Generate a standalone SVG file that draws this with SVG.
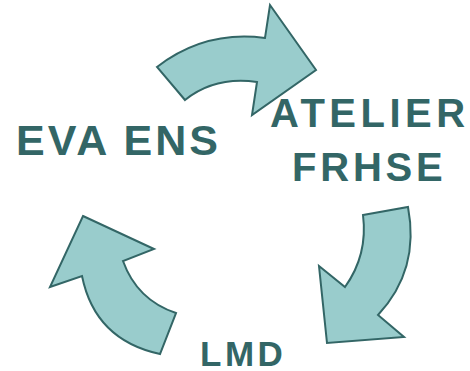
<svg xmlns="http://www.w3.org/2000/svg" width="470" height="371" viewBox="0 0 470 371">
<style>
.arrow{fill:#99CCCC;stroke:#336666;stroke-width:2;stroke-linejoin:miter}
.lbl{font-family:"Liberation Sans",Arial,sans-serif;font-weight:bold;fill:#336666}
</style>
<rect width="470" height="371" fill="#ffffff"/>
<g id="connectors">
<path id="arrow-top" class="arrow" d="M157,67 Q205,30 265,38 L270,5 L316,70 L252,115 L257,82 Q215,76 185,100 Z"/>
<path id="arrow-right" class="arrow" d="M363,215 L408,207 Q420,270 378,315 L404,337 L327,343 L319,266 L345,287 Q368,255 363,215 Z"/>
<path id="arrow-left" class="arrow" d="M83,216 L154,249 L123,261 Q137,300 176,313 L160,354 Q95,340 82,276 L50,287 Z"/>
</g>
<g id="node-eva"><text class="lbl" x="16" y="155" font-size="43" letter-spacing="3">EVA ENS</text></g>
<g id="node-atelier"><text class="lbl" x="270" y="127" font-size="40" letter-spacing="4.5">ATELIER</text><text class="lbl" x="292" y="181" font-size="40" letter-spacing="3.8">FRHSE</text></g>
<g id="node-lmd"><text class="lbl" x="200" y="366" font-size="35" letter-spacing="3.5">LMD</text></g>
</svg>
